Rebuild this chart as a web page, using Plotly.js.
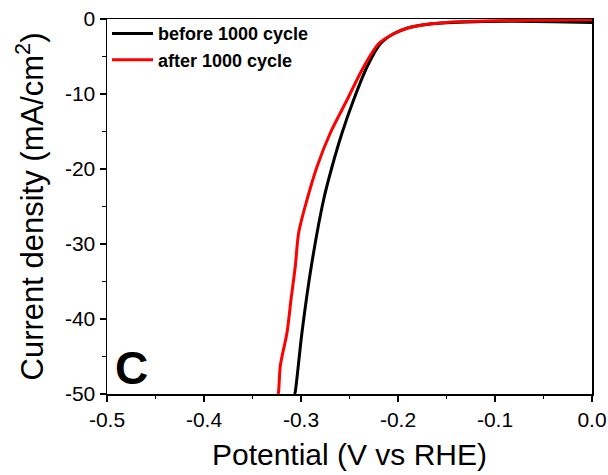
<!DOCTYPE html>
<html>
<head>
<meta charset="utf-8">
<script src="https://cdn.plot.ly/plotly-3.0.1.min.js"></script>
<style>html,body{margin:0;padding:0;background:#fff;}#chart{width:608px;height:475px;}</style>
</head>
<body>
<div id="chart"></div>
<script>
const seriesNames = ["before 1000 cycle", "after 1000 cycle"];
const beforeV = [-0.3066, -0.3059, -0.2990, -0.2894, -0.2767, -0.2680, -0.2577, -0.2458, -0.2320, -0.2182, -0.2050, -0.1900, -0.1750, -0.1500, -0.1200, -0.0800, -0.0400, 0.0];
const beforeJ = [-50, -49.7, -41.8, -33.0, -24.1, -19.7, -15.2, -10.8, -6.4, -3.3, -2.0, -1.2, -0.8, -0.5, -0.35, -0.3, -0.35, -0.45];
const afterV = [-0.3237, -0.3231, -0.3213, -0.3144, -0.3103, -0.3059, -0.3024, -0.2938, -0.2835, -0.2698, -0.2526, -0.2355, -0.2200, -0.2050, -0.1900, -0.1700, -0.1500, -0.1200, -0.0800, -0.0400, 0.0];
const afterJ = [-50, -49.7, -46.2, -41.8, -37.4, -33.0, -28.5, -24.1, -19.7, -15.2, -10.8, -6.4, -3.3, -2.0, -1.2, -0.7, -0.45, -0.3, -0.2, -0.15, -0.1];
const xTicks = [-0.5, -0.4, -0.3, -0.2, -0.1, 0.0];
const xTickText = ["-0.5", "-0.4", "-0.3", "-0.2", "-0.1", "0.0"];
const xMinorTicks = [-0.45, -0.35, -0.25, -0.15, -0.05];
const yTicks = [0, -10, -20, -30, -40, -50];
const yTickText = ["0", "-10", "-20", "-30", "-40", "-50"];
const yMinorTicks = [-5, -15, -25, -35, -45];

const traces = [
  {x: beforeV, y: beforeJ, name: seriesNames[0], mode: "lines", line: {color: "#000000", width: 3, shape: "spline", smoothing: 0.8}},
  {x: afterV, y: afterJ, name: seriesNames[1], mode: "lines", line: {color: "#ff0000", width: 3, shape: "spline", smoothing: 0.8}},
  {x: [], y: [], xaxis: "x2", yaxis: "y2", showlegend: false, hoverinfo: "skip"}
];

const layout = {
  width: 608, height: 475,
  margin: {l: 107, r: 16, t: 19, b: 81},
  paper_bgcolor: "#ffffff", plot_bgcolor: "#ffffff",
  font: {family: "Liberation Sans, Arial, sans-serif", size: 21, color: "#000000"},
  showlegend: true,
  legend: {x: 0.0, y: 1.01, xanchor: "left", yanchor: "top", bgcolor: "rgba(0,0,0,0)",
           font: {size: 18, weight: "bold", color: "#000"}, tracegroupgap: 0, itemwidth: 41},
  xaxis: {
    range: [-0.5, 0.0], tickmode: "array", tickvals: xTicks, ticktext: xTickText,
    ticks: "outside", ticklen: 6, tickwidth: 1.5, tickcolor: "#000",
    showline: true, linecolor: "#000", linewidth: 1.5, mirror: true,
    showgrid: false, zeroline: false,
    tickfont: {size: 21, color: "#000"},
    title: {text: "Potential (V vs RHE)", font: {size: 30, color: "#000"}, standoff: 14}
  },
  yaxis: {
    range: [-50, 0], tickmode: "array", tickvals: yTicks, ticktext: yTickText,
    ticks: "outside", ticklen: 6, tickwidth: 1.5, tickcolor: "#000",
    showline: true, linecolor: "#000", linewidth: 1.5, mirror: true,
    showgrid: false, zeroline: false,
    tickfont: {size: 21, color: "#000"},
    title: {text: "Current density (mA/cm<sup>2</sup>)", font: {size: 31, color: "#000"}, standoff: 12}
  },
  xaxis2: {
    overlaying: "x", matches: "x", side: "bottom", anchor: "y",
    tickmode: "array", tickvals: xMinorTicks, showticklabels: false,
    ticks: "outside", ticklen: 4, tickwidth: 1.5, tickcolor: "#000",
    showline: false, showgrid: false, zeroline: false
  },
  yaxis2: {
    overlaying: "y", matches: "y", side: "left", anchor: "x",
    tickmode: "array", tickvals: yMinorTicks, showticklabels: false,
    ticks: "outside", ticklen: 4, tickwidth: 1.5, tickcolor: "#000",
    showline: false, showgrid: false, zeroline: false
  },
  annotations: [{
    text: "C", xref: "paper", yref: "paper", x: 0.05, y: 0.07,
    xanchor: "center", yanchor: "middle", showarrow: false,
    font: {size: 46, weight: "bold", color: "#000"}
  }]
};

Plotly.newPlot("chart", traces, layout, {displayModeBar: false, staticPlot: true});
</script>
</body>
</html>
